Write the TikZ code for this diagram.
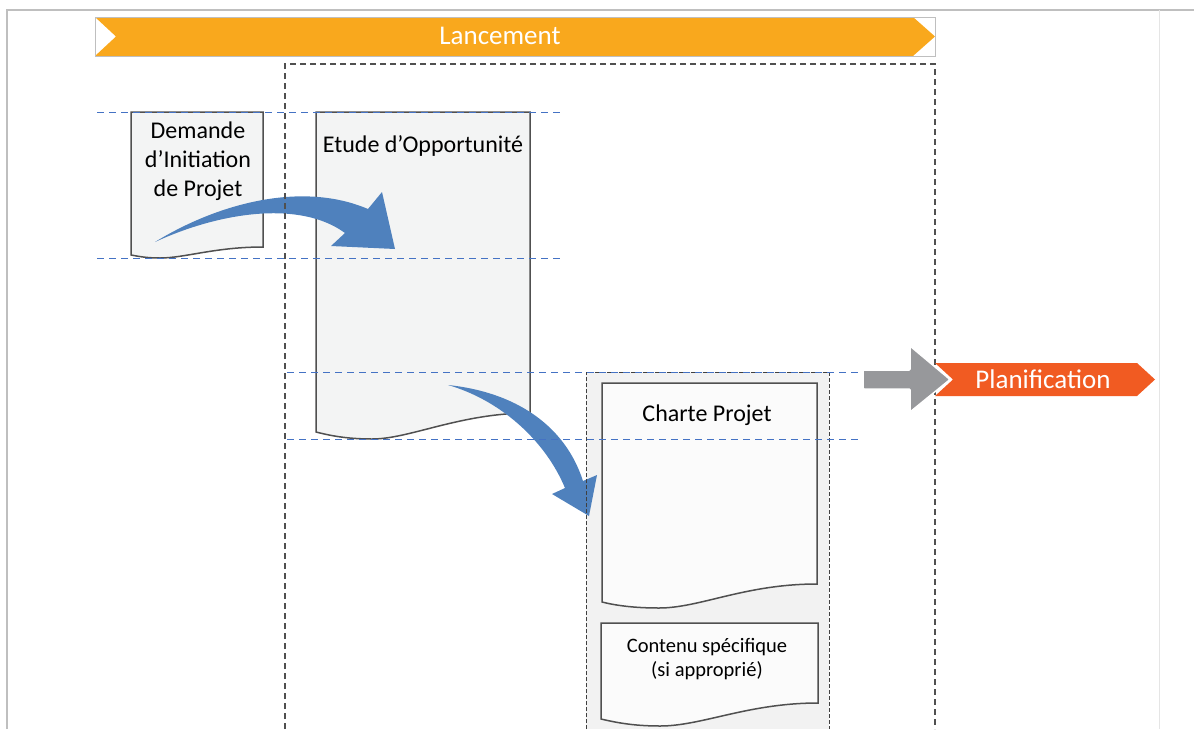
\documentclass[tikz,border=0pt]{standalone}
\usepackage{fontspec}
\setmainfont{Carlito}

\definecolor{lanc}{HTML}{F9A81D}
\definecolor{plan}{HTML}{F15B22}
\definecolor{flow}{HTML}{4F81BD}
\definecolor{guide}{HTML}{4472C4}
\definecolor{paper}{HTML}{F3F4F4}
\definecolor{sheet}{HTML}{FBFBFB}
\definecolor{zone}{HTML}{F2F2F2}
\definecolor{edge}{HTML}{505050}
\definecolor{push}{HTML}{97989B}

\begin{document}
\begin{tikzpicture}[x=1pt,y=-1pt,
  doc/.style={draw=edge,line width=1.5pt,fill=paper},
  guideline/.style={draw=guide,line width=0.9pt,dash pattern=on 7pt off 5pt},
  phase/.style={draw=edge,line width=1.4pt,dash pattern=on 6pt off 4pt},
  doctext/.style={font=\fontsize{24}{29}\selectfont,align=center},
  bartext/.style={font=\fontsize{27}{32}\selectfont,text=white}]

\useasboundingbox (0,0) rectangle (1194,729);

%% frame
\draw[black!25, line width=1.5pt] (7,729) -- (7,10) -- (1194,10);
\draw[black!10, line width=0.8pt] (1159,10) -- (1159,729);

%% Lancement
\fill[lanc] (95,17) -- (913,17) -- (935,36.5) -- (913,56) -- (95,56) -- (116,36.5) -- cycle;
\draw[black!25, line width=0.8pt] (95,17) rectangle (935,56);

%% zone of the charte
\fill[zone] (586,372) rectangle (829,729);

%% documents
\draw[doc] (131,112) -- (263,112) -- (263,247) .. controls (215,247) and (185,258) .. (160,258)
  .. controls (145,258) and (137,256) .. (131,255) -- cycle;
\draw[doc] (316,112) -- (530,112) -- (530,413) .. controls (460,413) and (410,439) .. (372,439)
  .. controls (345,439) and (328,435) .. (316,432) -- cycle;
\draw[doc, fill=sheet] (602,383) -- (817,383) -- (817,584) .. controls (745,584) and (700,608) .. (659,608)
  .. controls (632,608) and (614,605) .. (602,602) -- cycle;
\draw[doc, fill=sheet] (601,623) -- (818,623) -- (818,703) .. controls (748,703) and (702,726) .. (660,726)
  .. controls (632,726) and (614,722) .. (601,719) -- cycle;

%% blue arrows
\fill[flow] (155,242) .. controls (215,205) and (300,180) .. (368,209)
  -- (382,192) -- (395,249) -- (331,246) -- (345,233)
  .. controls (300,200) and (220,212) .. (155,242) -- cycle;
\fill[flow] (448,385) .. controls (515,392) and (565,425) .. (583,481)
  -- (597,475) -- (589,516) -- (552,494) -- (565,488)
  .. controls (545,440) and (500,400) .. (448,385) -- cycle;

%% dashed frames
\draw[black!75, line width=0.8pt, dash pattern=on 4pt off 2pt] (586,729) -- (586,372) -- (829,372) -- (829,729);
\draw[phase] (285,729) -- (285,64) -- (935,64) -- (935,729);

\draw[guideline] (97,112) -- (563,112);
\draw[guideline] (97,258) -- (563,258);
\draw[guideline] (287,372) -- (860,372);
\draw[guideline] (287,439) -- (860,439);

%% Planification
\fill[plan] (935,363) -- (1137,363) -- (1155,379.5) -- (1137,396) -- (935,396) -- (953,379.5) -- cycle;
\draw[fill=push, draw=white, line width=1.5pt, rounded corners=1pt] (863,370) -- (910,370) -- (910,346)
  -- (950,379.5) -- (910,412) -- (910,389) -- (863,389) -- cycle;

%% texts
\node[bartext] (lancement) at (500,36) {Lancement};
\node[bartext] (planif) at (1043,379) {Planification};
\node[doctext] (demande) at (198,161) {Demande\\d’Initiation\\de Projet};
\node[doctext] (etude) at (423,146) {Etude d’Opportunité};
\node[doctext] (charte) at (707,415) {Charte Projet};
\node[doctext, font=\fontsize{20.5}{24.5}\selectfont] (contenu) at (707,659) {Contenu spécifique\\(si approprié)};

\end{tikzpicture}
\end{document}
